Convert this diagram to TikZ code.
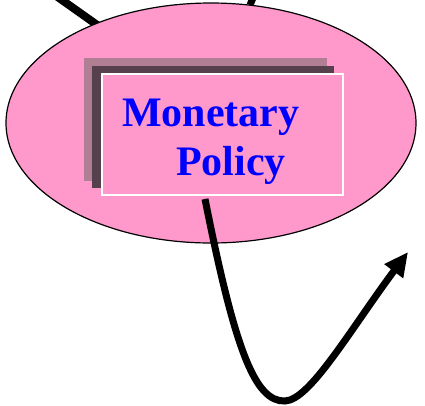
\documentclass[tikz,border=0pt]{standalone}
\usepackage{fontspec}
\setmainfont{Liberation Serif}
\usetikzlibrary{shapes.geometric,arrows.meta}
\definecolor{policypink}{RGB}{255,153,204}
\definecolor{shadelight}{RGB}{176,127,147}
\definecolor{shadedark}{RGB}{87,64,77}
\definecolor{policyblue}{RGB}{0,0,255}
\tikzset{
  flow/.style={line width=7pt, black},
  titletext/.style={text=policyblue, font=\fontsize{42}{48}\selectfont\bfseries, inner sep=0pt, anchor=base west},
}
\begin{document}
\begin{tikzpicture}[x=1pt,y=-1pt]
\useasboundingbox (0,0) rectangle (425,405);
\clip (0,0) rectangle (425,405);
% incoming links from above
\coordinate (inA) at (45,-12);
\coordinate (inB) at (258,-14);
\draw[line width=8pt] (inA) -- (100,27);
\draw[line width=7pt] (inB) -- (250,5);
% the policy ellipse
\node[ellipse, draw=black, line width=1.2pt, fill=policypink, minimum width=410pt, minimum height=240pt, inner sep=0pt] (sphere) at (211,123) {};
% stacked shadows and the title box
\fill[shadelight] (84,58) rectangle (327,181);
\fill[shadedark] (92,66) rectangle (334,188);
\node[draw=white, line width=1.5pt, fill=policypink, minimum width=241pt, minimum height=121pt, inner sep=0pt] (box) at (222.5,134.5) {};
\node[titletext] (l1) at (122,126) {Monetary};
\node[titletext] (l2) at (176,175) {Policy};
% outgoing effect
\coordinate (out) at (205,199);
\coordinate (low) at (285,401);
\coordinate (tip) at (408,252);
\draw[flow, -{Triangle[length=24pt,width=22pt]}] (out) .. controls (235,350) and (255,402) .. (low)
  .. controls (310,400) and (350,330) .. (tip);
\end{tikzpicture}
\end{document}
